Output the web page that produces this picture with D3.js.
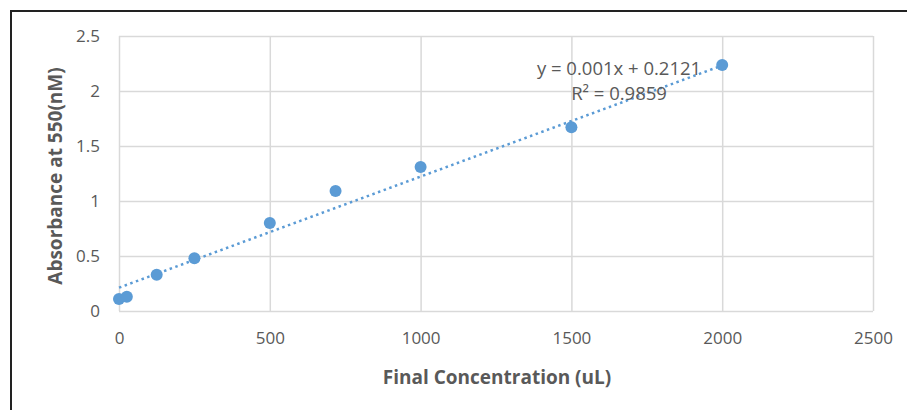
<!DOCTYPE html>
<html>
<head>
	<meta charset="utf-8">
	<title>Absorbance standard curve</title>
	<script src="https://d3js.org/d3.v7.min.js"></script>
	<style>
		body { margin: 0; background: #fff; }
		text { font-family: "Open Sans", "Noto Sans", sans-serif; }
	</style>
</head>
<body>
	<script type="text/javascript">

		// Data
		var concentration = [0, 26, 125, 250, 500, 718, 1000, 1500, 2000];
		var absorbance = [0.11, 0.13, 0.33, 0.48, 0.80, 1.09, 1.31, 1.67, 2.236];
		var xTicks = [0, 500, 1000, 1500, 2000, 2500];
		var yTicks = [0, 0.5, 1, 1.5, 2, 2.5];
		var trendSlope = 0.00101;
		var trendIntercept = 0.2121;
		var equationLines = ['y = 0.001x + 0.2121', 'R\u00b2 = 0.9859'];

		var outerWidth = 907, outerHeight = 410;
		var plot = {left: 119, top: 36, width: 754, height: 275};

		var svg = d3.select('body')
					.append('svg')
					.attr('width', outerWidth)
					.attr('height', outerHeight);

		// Frame round the chart
		svg.append('rect')
		   .attr('x', 11)
		   .attr('y', 11)
		   .attr('width', outerWidth + 10)
		   .attr('height', outerHeight + 10)
		   .attr('fill', 'none')
		   .attr('stroke', '#222')
		   .attr('stroke-width', 2);

		var x = d3.scaleLinear().domain([0, 2500]).range([0, plot.width]);
		var y = d3.scaleLinear().domain([0, 2.5]).range([plot.height, 0]);

		var g = svg.append('g')
				   .attr('transform', 'translate(' + plot.left + ',' + plot.top + ')');

		// Gridlines
		g.append('g')
		 .call(d3.axisLeft(y).tickValues(yTicks).tickSize(-plot.width).tickFormat(''))
		 .call(function(a) {
		 	a.select('.domain').remove();
		 	a.selectAll('line').attr('stroke', '#d9d9d9').attr('stroke-width', 1.5);
		 });

		g.append('g')
		 .call(d3.axisBottom(x).tickValues(xTicks).tickSize(plot.height).tickFormat(''))
		 .call(function(a) {
		 	a.select('.domain').remove();
		 	a.selectAll('line').attr('stroke', '#d9d9d9').attr('stroke-width', 1.5);
		 });

		// Tick labels
		g.append('g')
		 .attr('transform', 'translate(0,' + plot.height + ')')
		 .call(d3.axisBottom(x).tickValues(xTicks).tickSize(0).tickPadding(21).tickFormat(d3.format('d')))
		 .call(function(a) {
		 	a.select('.domain').remove();
		 	a.selectAll('text').attr('fill', '#595959').style('font-size', '17px');
		 });

		g.append('g')
		 .call(d3.axisLeft(y).tickValues(yTicks).tickSize(0).tickPadding(19).tickFormat(function(d) { return String(d); }))
		 .call(function(a) {
		 	a.select('.domain').remove();
		 	a.selectAll('text').attr('fill', '#595959').style('font-size', '17px');
		 });

		// Trendline
		var xMin = d3.min(concentration), xMax = d3.max(concentration);
		g.append('line')
		 .attr('x1', x(xMin))
		 .attr('y1', y(trendIntercept + trendSlope * xMin))
		 .attr('x2', x(xMax))
		 .attr('y2', y(trendIntercept + trendSlope * xMax))
		 .attr('stroke', '#5b9bd5')
		 .attr('stroke-width', 2.5)
		 .attr('stroke-dasharray', '2.5,3.5');

		// Points
		g.selectAll('circle')
		 .data(concentration)
		 .enter()
		 .append('circle')
		 .attr('cx', function(d) { return x(d); })
		 .attr('cy', function(d, i) { return y(absorbance[i]); })
		 .attr('r', 6)
		 .attr('fill', '#5b9bd5');

		// Equation label
		var labelX = x(1658);
		g.append('text')
		 .attr('y', 75 - plot.top)
		 .attr('text-anchor', 'middle')
		 .attr('fill', '#595959')
		 .style('font-size', '18.5px')
		 .selectAll('tspan')
		 .data(equationLines)
		 .enter()
		 .append('tspan')
		 .attr('x', labelX)
		 .attr('dy', function(d, i) { return i ? 25 : 0; })
		 .text(function(d) { return d; });

		// Axis titles
		svg.append('text')
		   .attr('x', 497)
		   .attr('y', 384)
		   .attr('text-anchor', 'middle')
		   .attr('fill', '#595959')
		   .style('font-size', '19px')
		   .style('font-weight', 'bold')
		   .text('Final Concentration (uL)');

		svg.append('text')
		   .attr('transform', 'translate(62,176) rotate(-90)')
		   .attr('text-anchor', 'middle')
		   .attr('fill', '#595959')
		   .style('font-size', '19px')
		   .style('font-weight', 'bold')
		   .text('Absorbance at 550(nM)');

	</script>
</body>
</html>
